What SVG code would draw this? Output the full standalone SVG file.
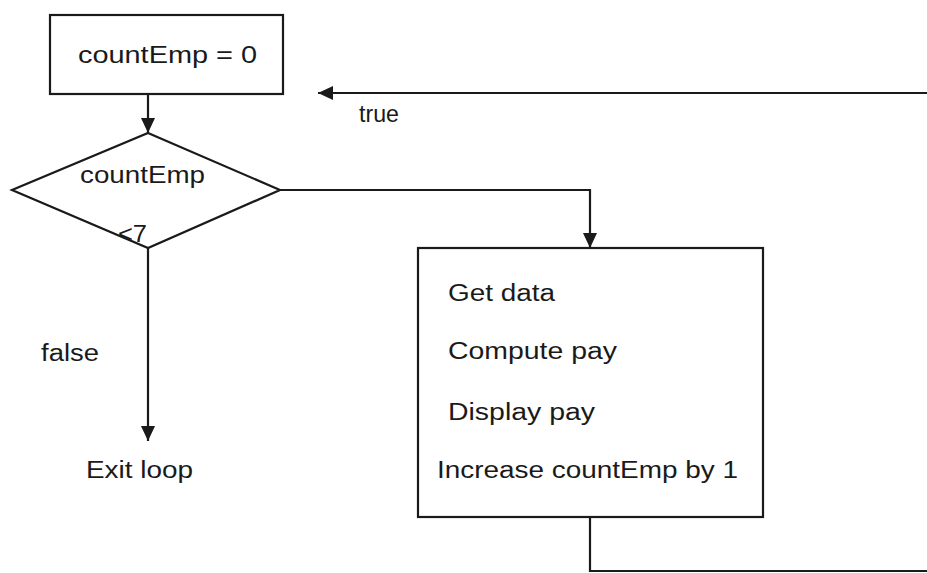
<svg xmlns="http://www.w3.org/2000/svg" width="927" height="573" viewBox="0 0 927 573">
  <style>
    .shape { fill: #ffffff; stroke: #1a1a1a; stroke-width: 2.2; }
    .edge { fill: none; stroke: #1a1a1a; stroke-width: 2.2; }
    .lbl { font-family: "Liberation Sans", Arial, sans-serif; font-size: 23px; fill: #1a1a1a; }
  </style>
  <defs>
    <marker id="arrow" markerUnits="userSpaceOnUse" markerWidth="16" markerHeight="14" refX="15" refY="7" orient="auto">
      <path d="M0,0 L15,7 L0,14 Z" fill="#1a1a1a"/>
    </marker>
  </defs>
  <rect width="927" height="573" fill="#ffffff"/>

  <!-- connectors -->
  <g id="connectors">
    <line class="edge" x1="148" y1="94" x2="148" y2="133" marker-end="url(#arrow)"/>
    <line class="edge" x1="148" y1="248" x2="148" y2="441" marker-end="url(#arrow)"/>
    <polyline class="edge" points="280,190 590,190 590,248" marker-end="url(#arrow)"/>
    <polyline class="edge" points="590,517 590,571 927,571"/>
    <line class="edge" x1="927" y1="93" x2="318" y2="93" marker-end="url(#arrow)"/>
    <text class="lbl" x="359" y="122" textLength="40" lengthAdjust="spacingAndGlyphs">true</text>
    <text class="lbl" x="41" y="361" textLength="58" lengthAdjust="spacingAndGlyphs">false</text>
  </g>

  <!-- initialisation -->
  <g id="init">
    <rect class="shape" x="50" y="15" width="233" height="79"/>
    <text class="lbl" x="78" y="63" textLength="179" lengthAdjust="spacingAndGlyphs">countEmp = 0</text>
  </g>

  <!-- loop test -->
  <g id="test">
    <polygon class="shape" points="148,133 280,190 148,248 12,190"/>
    <text class="lbl" x="80" y="183" textLength="125" lengthAdjust="spacingAndGlyphs">countEmp</text>
    <text class="lbl" x="118" y="242" textLength="29" lengthAdjust="spacingAndGlyphs">&lt;7</text>
  </g>

  <!-- loop body -->
  <g id="body">
    <rect class="shape" x="418" y="248" width="345" height="269"/>
    <text class="lbl" x="448" y="301" textLength="107" lengthAdjust="spacingAndGlyphs">Get data</text>
    <text class="lbl" x="448" y="359" textLength="169" lengthAdjust="spacingAndGlyphs">Compute pay</text>
    <text class="lbl" x="448" y="420" textLength="147" lengthAdjust="spacingAndGlyphs">Display pay</text>
    <text class="lbl" x="437" y="478" textLength="301" lengthAdjust="spacingAndGlyphs">Increase countEmp by 1</text>
  </g>

  <!-- exit -->
  <g id="exit">
    <text class="lbl" x="86" y="478" textLength="107" lengthAdjust="spacingAndGlyphs">Exit loop</text>
  </g>
</svg>
